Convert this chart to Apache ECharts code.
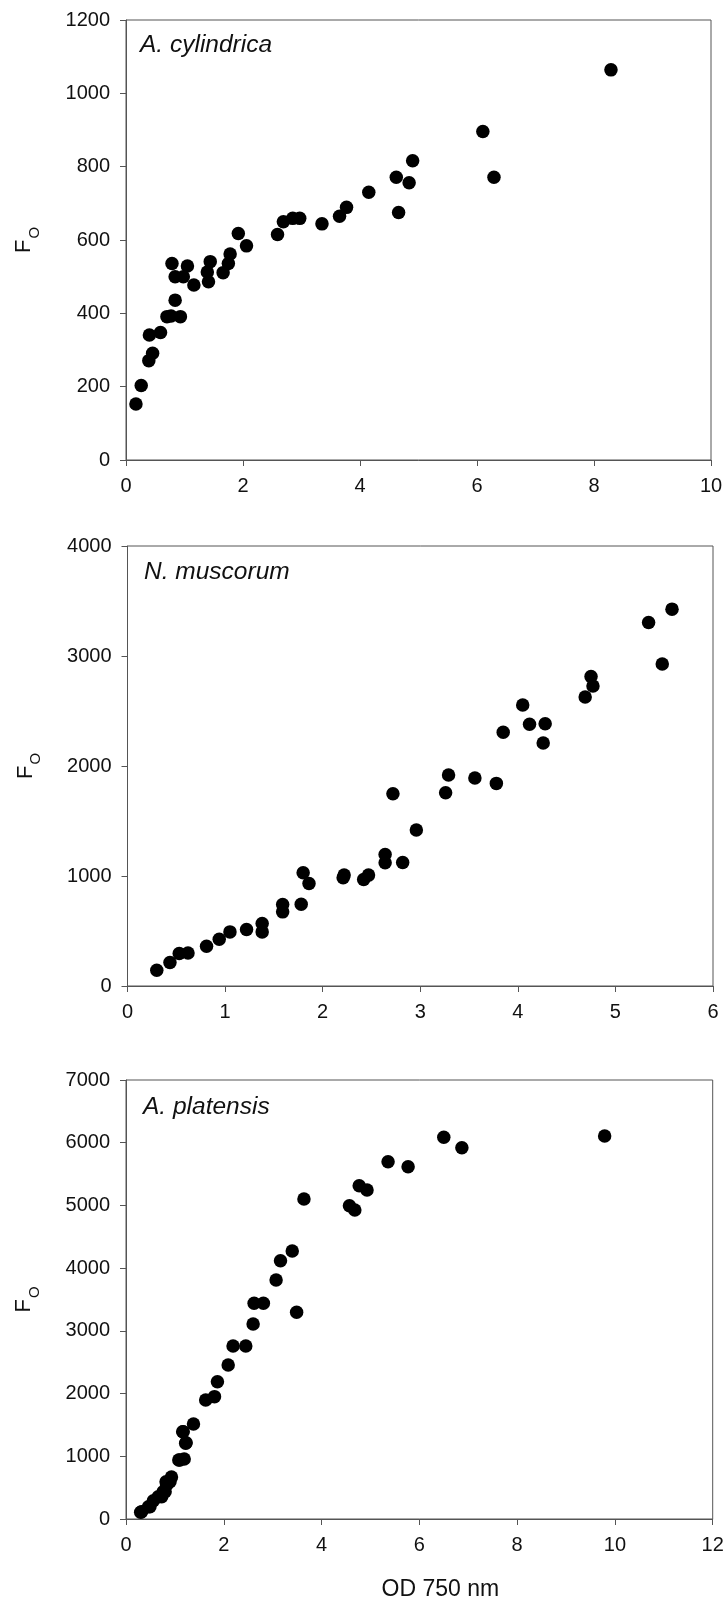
<!DOCTYPE html>
<html>
<head>
<meta charset="utf-8">
<script src="https://cdn.jsdelivr.net/npm/echarts@6/dist/echarts.min.js"></script>
<style>
html,body{margin:0;padding:0;background:#fff;}
#chart{width:728px;height:1604px;}
</style>
</head>
<body>
<div id="chart"></div>
<script>
// ---- Data (OD 750 nm, Fo) ----
const speciesNames = ['A. cylindrica', 'N. muscorum', 'A. platensis'];

const cylindricaOD = [0.17,0.26,0.39,0.455,0.40,0.59,0.70,0.77,0.93,0.84,0.786,0.84,1.05,0.98,1.16,1.41,1.39,1.44,1.66,1.75,1.78,1.92,2.06,2.59,2.69,2.85,2.97,3.35,3.65,3.77,4.15,4.62,4.66,4.84,4.90,6.10,6.29,8.29];
const cylindricaFo = [153,203,271,291,341,348,391,393,391,436,536,500,529,500,477,486,513,541,511,536,562,618,584,615,650,659,659,644,665,689,730,771,675,756,816,896,771,1064];

const muscorumOD = [0.30,0.435,0.53,0.62,0.81,0.94,1.05,1.22,1.38,1.38,1.59,1.59,1.78,1.80,1.86,2.21,2.22,2.42,2.47,2.64,2.64,2.82,2.72,2.96,3.29,3.26,3.56,3.78,3.85,4.05,4.12,4.28,4.26,4.69,4.75,4.77,5.34,5.48,5.58];
const muscorumFo = [143,213,295,300,361,425,492,513,568,492,741,674,744,1029,932,985,1010,968,1008,1196,1120,1123,1748,1418,1918,1757,1891,1842,2307,2555,2379,2385,2209,2628,2813,2728,3305,2928,3426];

const platensisOD = [0.30,0.32,0.46,0.49,0.56,0.66,0.73,0.76,0.80,0.83,0.82,0.90,0.93,1.08,1.10,1.19,1.22,1.23,1.16,1.17,1.38,1.63,1.81,1.87,2.09,2.19,2.45,2.60,2.62,2.81,3.07,3.16,3.40,3.49,3.64,4.57,4.68,4.77,4.93,5.36,5.77,6.50,6.87,9.79];
const platensisFo = [107,116,196,196,290,356,356,435,436,542,595,595,670,941,941,957,1207,1217,1392,1392,1515,1898,1951,2190,2456,2759,2759,3110,3440,3440,3811,4119,4274,3296,5103,4996,4927,5315,5246,5698,5618,6087,5921,6107];

// axis settings
const xMax = [10, 6, 12];
const xInterval = [2, 1, 2];
const yMax = [1200, 4000, 7000];
const yInterval = [200, 1000, 1000];
const yAxisTitle = 'F';
const yAxisSub = 'O';
const xAxisTitle = 'OD 750 nm';

function pairs(xs, ys) { return xs.map((x, i) => [x, ys[i]]); }
const seriesData = [
  pairs(cylindricaOD, cylindricaFo),
  pairs(muscorumOD, muscorumFo),
  pairs(platensisOD, platensisFo)
];

const FONT = '"Liberation Sans", Arial, sans-serif';
const axisColor = '#555';
const grids = [
  {left: 126, top: 20, width: 585, height: 440},
  {left: 127.5, top: 546, width: 585.5, height: 440},
  {left: 126, top: 1080, width: 586.7, height: 439}
];
const titlePos = [
  {left: 140, top: 33},
  {left: 144, top: 560},
  {left: 143, top: 1095}
];

const plain = v => String(v);

const option = {
  backgroundColor: '#fff',
  animation: false,
  title: speciesNames.map((n, i) => ({
    text: n, left: titlePos[i].left, top: titlePos[i].top, padding: 0,
    textStyle: {fontFamily: FONT, fontSize: 24.5, fontStyle: 'italic', fontWeight: 'normal', color: '#111'}
  })),
  grid: grids.map(g => Object.assign({show: true, borderColor: axisColor, borderWidth: 1, backgroundColor: 'transparent'}, g)),
  xAxis: grids.map((g, i) => ({
    type: 'value', gridIndex: i, min: 0, max: xMax[i], interval: xInterval[i],
    axisLine: {show: true, onZero: false, lineStyle: {color: axisColor, width: 1}},
    axisTick: {show: true, inside: false, length: 6, lineStyle: {color: axisColor}},
    axisLabel: {fontFamily: FONT, fontSize: 20, color: '#111', margin: 16, formatter: plain},
    splitLine: {show: false},
    name: i === 2 ? xAxisTitle : '',
    nameLocation: 'middle', nameGap: 59,
    nameTextStyle: {fontFamily: FONT, fontSize: 23, color: '#111', padding: [0, 0, 0, 42]}
  })),
  yAxis: grids.map((g, i) => ({
    type: 'value', gridIndex: i, min: 0, max: yMax[i], interval: yInterval[i],
    axisLine: {show: true, onZero: false, lineStyle: {color: axisColor, width: 1}},
    axisTick: {show: true, inside: false, length: 6, lineStyle: {color: axisColor}},
    axisLabel: {fontFamily: FONT, fontSize: 20, color: '#111', margin: 16, formatter: plain},
    splitLine: {show: false},
    name: '{f|' + yAxisTitle + '}{o|' + yAxisSub + '}',
    nameLocation: 'middle', nameGap: 84, nameRotate: 90,
    nameTextStyle: {
      rich: {
        f: {fontFamily: FONT, fontSize: 22, lineHeight: 22, color: '#111', verticalAlign: 'top'},
        o: {fontFamily: FONT, fontSize: 15, color: '#111', verticalAlign: 'bottom', padding: [14, 0, 0, 1]}
      }
    }
  })),
  series: seriesData.map((d, i) => ({
    type: 'scatter', xAxisIndex: i, yAxisIndex: i, data: d,
    symbol: 'circle', symbolSize: 13.5,
    itemStyle: {color: '#000', opacity: 1}
  }))
};

const chart = echarts.init(document.getElementById('chart'), null, {renderer: 'canvas'});
chart.setOption(option);
</script>
</body>
</html>
